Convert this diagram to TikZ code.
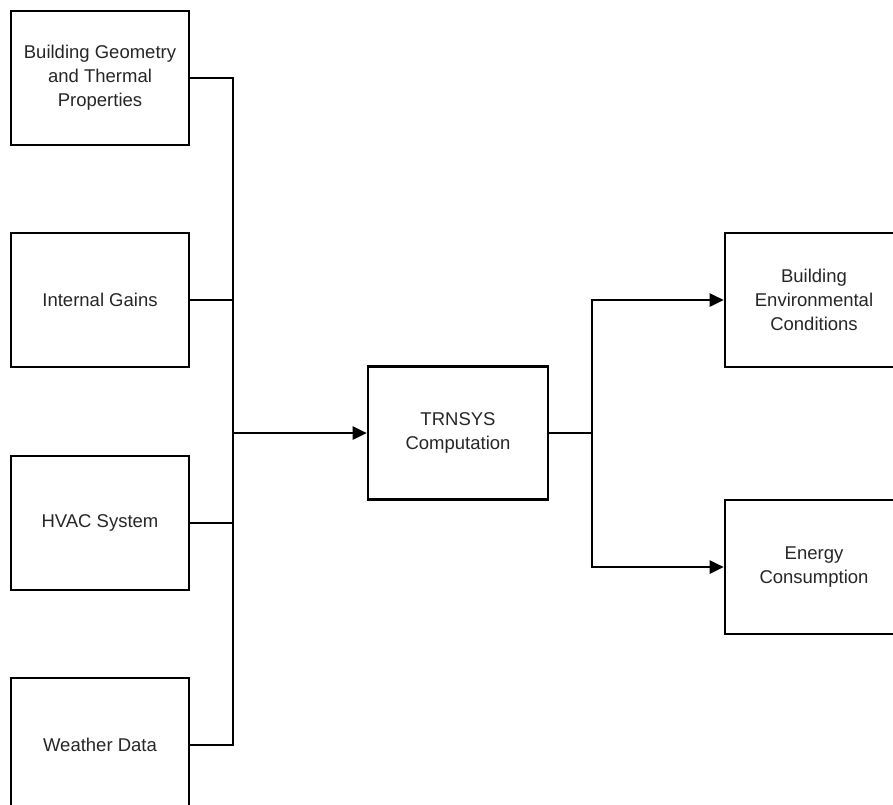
\documentclass[tikz,border=0pt]{standalone}
\usepackage{fontspec}
\setmainfont{Liberation Sans}
\usetikzlibrary{arrows.meta}

\begin{document}
\begin{tikzpicture}
[ x=1pt, y=-1pt, line width=2.6pt
, point/.style={coordinate}
, block/.style={rectangle, draw, minimum width=178pt, minimum height=134pt, inner sep=0pt, align=center, text=black!85, font=\fontsize{18.5}{24}\selectfont}
, curve/.style={line width=2.6pt}
, flow/.style={curve, -{Triangle[length=14pt, width=13pt]}}
]
\useasboundingbox (0,0) rectangle (893,804);
\clip (0,0) rectangle (893,804);
% Inputs:
\node (geometry) [block] at (100,78) {Building Geometry\\and Thermal\\Properties};
\node (gains) [block] at (100,300) {Internal Gains};
\node (hvac) [block] at (100,523) {HVAC System};
\node (weather) [block] at (100,745) {Weather Data};
% Computation and outputs:
\node (trnsys) [block, minimum width=180pt, minimum height=133pt] at (458,433) {TRNSYS\\Computation};
\node (conditions) [block] at (814,300) {Building\\Environmental\\Conditions};
\node (energy) [block] at (814,567) {Energy\\Consumption};
% Junctions:
\node (p1) [point] at (233,433) {};
\node (p2) [point] at (592,433) {};
\draw [curve] (geometry.east) -| (p1);
\draw [curve] (weather.east) -| (p1);
\draw [curve] (gains.east) -- (gains.east -| p1);
\draw [curve] (hvac.east) -- (hvac.east -| p1);
\draw [flow] (p1) -- (trnsys);
\draw [curve] (trnsys) -- (p2);
\draw [flow] (p2) |- (conditions);
\draw [flow] (p2) |- (energy);
\end{tikzpicture}
\end{document}
